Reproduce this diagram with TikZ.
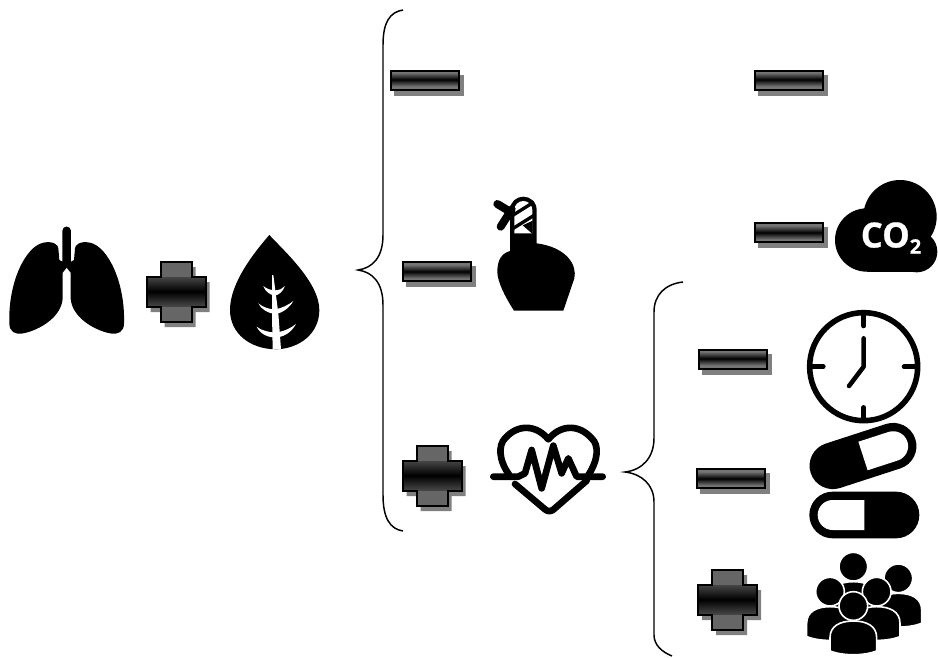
\documentclass[tikz,border=0pt]{standalone}
\usepackage{fontspec}
\setsansfont[BoldFeatures={FakeBold=0.6}]{Open Sans}
\usepackage{tikz}

\def\crossoutline{(-15.5,-30) -- (15.5,-30) -- (15.5,-15) -- (29.5,-15) -- (29.5,15) -- (15.5,15) -- (15.5,30) -- (-15.5,30) -- (-15.5,15) -- (-29.5,15) -- (-29.5,-15) -- (-15.5,-15) -- cycle}

\tikzset{
  pics/minusbox/.style={code={
    \fill[black!50] (-31,-5.5) rectangle (39,15.5);
    \foreach \i in {-10,...,9}{
      \pgfmathsetmacro{\dk}{100-46*min(1,abs(\i+0.5)/7)}
      \fill[black!\dk] (-34,\i) rectangle (34,10);
    }
    \draw[line width=1.5pt] (-34,-9.5) rectangle (34,9.5);
  }},
  pics/plusbox/.style={code={
    \fill[black!50, shift={(4,5)}] \crossoutline;
    \begin{scope}
      \clip \crossoutline;
      \foreach \i in {-30,...,29}{
        \pgfmathsetmacro{\dk}{abs(\i+0.5)<15 ? 100-28*abs(\i+0.5)/15 : 60}
        \fill[black!\dk] (-30,\i) rectangle (30,30);
      }
    \end{scope}
    \draw[line width=1.5pt] \crossoutline;
  }},
  pics/capsule/.style={code={
    \fill[rounded corners=17.5pt] (-165,-70) rectangle (165,70);
    \fill[white] (0,-45) [rounded corners=11.25pt] -- (140,-45) -- (140,45) [sharp corners] -- (0,45) -- cycle;
  }},
  pics/person/.style={code={
    \path[personpart] (-70,135) -- (-70,95) .. controls (-70,60) and (-40,45) .. (0,45) .. controls (40,45) and (70,60) .. (70,95) -- (70,135) .. controls (30,150) and (-30,150) .. (-70,135) -- cycle;
    \path[personpart] (0,0) circle[radius=43];
  }},
  personpart/.style={fill=black, draw=white, line width=1.2pt},
  bracket/.style={line width=1.1pt},
  heartline/.style={line width=5pt, line cap=round, line join=round},
  clockline/.style={line width=3.4pt, line cap=round, line join=round},
}

\begin{document}
\begin{tikzpicture}[x=0.75pt, y=-0.75pt]
  \useasboundingbox (0,0) rectangle (938,657);

  % braces
  \draw[bracket] (403,10) .. controls (390,12) and (383,22) .. (383,45) -- (383,235) .. controls (383,258) and (372,268) .. (358,270) .. controls (372,272) and (383,282) .. (383,305) -- (383,495) .. controls (383,518) and (390,529) .. (403,531);
  \draw[bracket] (683,282) .. controls (665,284) and (654,295) .. (654,312) -- (654,438) .. controls (654,458) and (642,470) .. (625,472) .. controls (642,474) and (654,485) .. (654,502) -- (654,635) .. controls (654,645) and (662,652) .. (672,656);

  % operators
  \pic (minustopleft) at (425,80) {minusbox};
  \pic (minustopright) at (789,80) {minusbox};
  \pic (minusfinger) at (437,271.5) {minusbox};
  \pic (minuscloud) at (789,232.5) {minusbox};
  \pic (minusclock) at (732.5,359) {minusbox};
  \pic (minuspills) at (731,478.5) {minusbox};
  \pic (plusleaf) at (176,292) {plusbox};
  \pic (plusheart) at (432,476) {plusbox};
  \pic (pluspeople) at (727.5,600) {plusbox};

  % lungs
  \begin{scope}[shift={(0,220)}, scale=1/3]
    \foreach \side in {1,-1}
      \fill[shift={(200,0)}, xscale=\side] (1,143) -- (0,143) -- (-12,158) -- (-12,235) .. controls (-15,290) and (-80,330) .. (-130,340) .. controls (-155,345) and (-172,335) .. (-172,310) .. controls (-176,190) and (-125,80) .. (-70,68) .. controls (-40,62) and (-25,75) .. (-25,85) -- (-22,120) -- (-13,125) -- (-13,32) .. controls (-13,24) and (-6,20) .. (0,20) -- (1,20) -- cycle;

    % leaf
    \fill (808,45) .. controls (860,100) and (958,190) .. (958,270) .. controls (958,340) and (900,385) .. (830,388) .. controls (750,388) and (690,340) .. (690,270) .. controls (690,190) and (760,100) .. (808,45) -- cycle;
    \fill[white] (816,165) -- (820,165) -- (835,280) -- (843,388) -- (818,388) -- (816,280) -- cycle;
    \fill[white] (790,198) .. controls (800,207) and (815,211) .. (825,211) .. controls (838,211) and (848,206) .. (855,198) .. controls (848,216) and (835,226) .. (825,226) .. controls (810,226) and (795,214) .. (790,198) -- cycle;
    \fill[white] (775,250) .. controls (790,263) and (810,268) .. (825,268) .. controls (845,265) and (865,255) .. (880,243) .. controls (868,265) and (845,280) .. (825,282) .. controls (805,280) and (783,268) .. (775,250) -- cycle;
    \fill[white] (770,320) .. controls (785,332) and (805,336) .. (825,338) .. controls (850,335) and (872,325) .. (888,312) .. controls (875,335) and (855,350) .. (830,352) .. controls (805,354) and (780,342) .. (770,320) -- cycle;
  \end{scope}

  % finger
  \begin{scope}[shift={(390,190)}, scale=1/3]
    \fill (372,362) -- (520,362) -- (553,265) .. controls (562,225) and (530,172) .. (440,160) -- (440,60) .. controls (440,35) and (420,20) .. (400,20) .. controls (380,20) and (360,35) .. (360,60) -- (360,183) .. controls (335,190) and (322,210) .. (322,245) .. controls (322,275) and (345,320) .. (372,362) -- cycle;
    \fill[white] (373,130) -- (373,60) .. controls (373,45) and (385,33) .. (400,33) .. controls (415,33) and (427,45) .. (427,60) -- (427,130) -- cycle;
    \draw[line width=2.5pt] (365,78) -- (432,36);
    \draw[line width=2.5pt] (365,118) -- (432,76);
    \fill (398,106) -- (428,132) -- (428,92) -- cycle;
    \draw[line width=6pt, line cap=round] (322,42) -- (362,66);
    \draw[line width=6pt, line cap=round] (332,110) -- (365,58);
  \end{scope}

  % heart
  \begin{scope}[shift={(390,410)}, scale=1/3]
    \draw[heartline] (358,195) .. controls (325,150) and (325,105) .. (345,85) .. controls (385,40) and (440,45) .. (475,88) .. controls (510,45) and (565,40) .. (605,85) .. controls (628,105) and (625,150) .. (595,195);
    \draw[heartline] (375,222) -- (465,298) .. controls (473,305) and (483,305) .. (491,298) -- (590,212);
    \draw[heartline] (310,200) -- (385,200) -- (405,190) -- (425,120) -- (455,235) -- (490,107) -- (515,190) -- (535,145) -- (560,200) -- (638,200);
  \end{scope}

  % cloud
  \begin{scope}[shift={(740,170)}, scale=1/3]
    \fill (480,140) circle[radius=110];
    \fill (380,210) circle[radius=95];
    \fill (530,245) circle[radius=62];
    \fill (380,200) rectangle (530,305);
  \end{scope}
  \node[text=white, font=\sffamily\bfseries\fontsize{26}{26}\selectfont, inner sep=0pt] (cotwo) at (891,238) {CO\raisebox{-0.18em}{\fontsize{15}{15}\selectfont 2}};

  % clock
  \begin{scope}[shift={(690,310)}, scale=1/3]
    \draw[line width=4.2pt] (521,170) circle[radius=162];
    \draw[clockline] (521,15) -- (521,48);
    \draw[clockline] (521,292) -- (521,325);
    \draw[clockline] (368,170) -- (400,170);
    \draw[clockline] (642,170) -- (675,170);
    \draw[clockline] (521,85) -- (521,170) -- (477,228);

    % pills
    \pic[transform shape, rotate=18] (pilltop) at (519,438) {capsule};
    \pic[transform shape, xscale=-1] (pillbottom) at (523,615) {capsule};
  \end{scope}

  % people
  \begin{scope}[shift={(690,540)}, scale=1/3]
    \foreach \px/\py in {490/80, 625/115, 420/155, 560/155, 490/198}
      \pic[transform shape] at (\px,\py) {person};
  \end{scope}
\end{tikzpicture}
\end{document}
